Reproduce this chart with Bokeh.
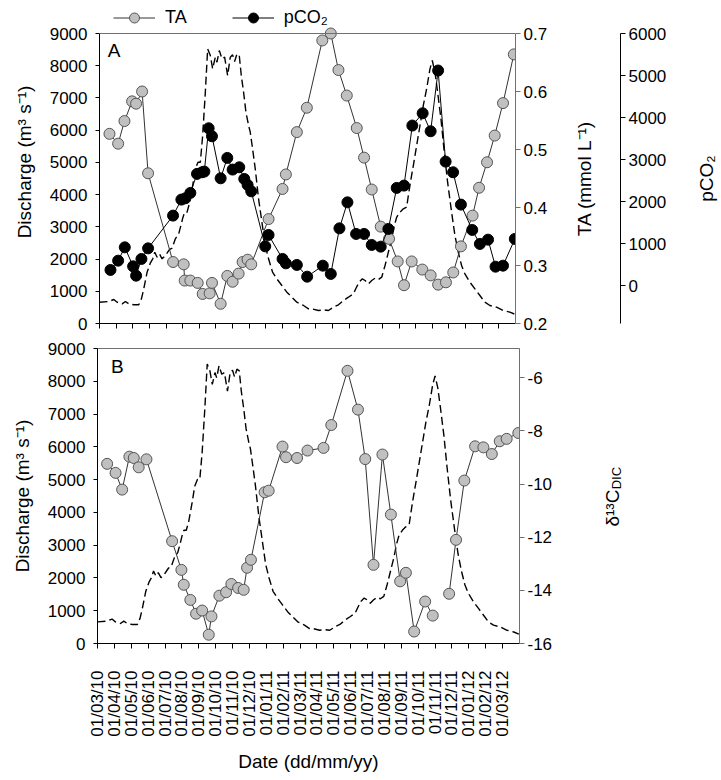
import math
from bokeh.plotting import figure
from bokeh.models import LinearAxis, Range1d, FixedTicker, Legend, LegendItem, Label, Span
from bokeh.layouts import column, row
from bokeh.embed import file_html
from bokeh.resources import INLINE

FONT = "Liberation Sans"
NAN = float("nan")

# ---- x axis: months since 01/03/10 ----
date_labels = ["01/03/10", "01/04/10", "01/05/10", "01/06/10", "01/07/10", "01/08/10",
               "01/09/10", "01/10/10", "01/11/10", "01/12/10", "01/01/11", "01/02/11",
               "01/03/11", "01/04/11", "01/05/11", "01/06/11", "01/07/11", "01/08/11",
               "01/09/11", "01/10/11", "01/11/11", "01/12/11", "01/01/12", "01/02/12",
               "01/03/12"]
tick_pos = list(range(len(date_labels)))

# ---- discharge (m3 s-1) ----
q_month = [0.00, 0.56, 0.86, 1.06, 1.36, 1.56, 1.76, 2.06, 2.36, 2.52,
           2.66, 2.86, 3.06, 3.20, 3.32, 3.46, 3.60, 3.76, 3.96, 4.20,
           4.36, 4.56, 4.76, 4.92, 5.00, 5.12, 5.26, 5.40, 5.60, 5.76,
           5.92, 6.06, 6.20, 6.36, 6.50, 6.66, 6.80, 6.96, 7.06, 7.20,
           7.36, 7.52, 7.70, 7.86, 8.00, 8.12, 8.26, 8.40, 8.52, 8.66,
           8.80, 8.96, 9.06, 9.20, 9.36, 9.56, 9.76, 9.96, 10.16, 10.40,
           10.66, 10.96, 11.26, 11.56, 11.86, 12.26, 12.56, 12.76, 13.16, 13.46,
           13.76, 14.06, 14.36, 14.66, 14.96, 15.26, 15.40, 15.60, 15.80, 15.96,
           16.16, 16.36, 16.56, 16.76, 16.96, 17.16, 17.36, 17.56, 17.72, 17.86,
           18.06, 18.26, 18.46, 18.56, 18.72, 18.86, 19.06, 19.26, 19.46, 19.66,
           19.86, 20.00, 20.16, 20.32, 20.52, 20.72, 20.92, 21.16, 21.36, 21.56,
           21.76, 21.96, 22.26, 22.56, 22.86, 23.16, 23.46, 23.86, 24.26, 24.66,
           24.96]
q_value = [661, 683, 745, 661, 610, 683, 610, 580, 580, 766,
           1077, 1593, 1883, 2008, 2213, 2058, 2162, 2008, 2110, 2296,
           2337, 2628, 2783, 3094, 3268, 3454, 3454, 3714, 4283, 4800,
           5006, 5006, 5834, 7177, 8524, 8317, 7904, 8265, 8110, 8472,
           8214, 8265, 7696, 8265, 8338, 8131, 8369, 8317, 7696, 7177,
           6558, 6145, 5937, 5421, 4800, 3869, 3144, 2421, 2008, 1593,
           1386, 1179, 972, 816, 661, 559, 456, 456, 403, 425,
           403, 506, 580, 714, 816, 922, 1077, 1283, 1386, 1334,
           1231, 1334, 1406, 1365, 1437, 1800, 2213, 2628, 3041, 3299,
           3454, 3559, 3610, 3972, 4490, 4903, 5524, 6145, 6766, 7283,
           7904, 8162, 7799, 7177, 6352, 5316, 4385, 3454, 2731, 2213,
           1800, 1541, 1283, 1077, 869, 661, 559, 506, 403, 351,
           289]

# ---- TA (mmol L-1) ----
ta_month = [0.60, 1.12, 1.50, 1.96, 2.20, 2.56, 2.92, 4.42, 5.06, 5.12,
            5.46, 5.90, 6.20, 6.62, 6.76, 7.28, 7.68, 8.00, 8.36, 8.60,
            8.90, 9.12, 10.16, 11.00, 11.20, 11.86, 12.46, 13.39, 13.90, 14.36,
            14.86, 15.46, 15.90, 16.36, 16.90, 17.40, 17.92, 18.30, 18.76, 19.40,
            19.90, 20.35, 20.82, 21.26, 21.72, 22.42, 22.81, 23.29, 23.75, 24.25,
            24.90]
ta_value = [0.527, 0.510, 0.549, 0.583, 0.579, 0.600, 0.459, 0.306, 0.302, 0.274,
            0.274, 0.270, 0.251, 0.252, 0.270, 0.234, 0.282, 0.272, 0.286, 0.306,
            0.310, 0.302, 0.380, 0.432, 0.457, 0.530, 0.572, 0.688, 0.700, 0.637,
            0.593, 0.537, 0.486, 0.431, 0.367, 0.346, 0.307, 0.266, 0.307, 0.293,
            0.283, 0.267, 0.271, 0.288, 0.333, 0.386, 0.434, 0.478, 0.524, 0.580,
            0.664]

# ---- pCO2 ----
p_month = [0.66, 1.12, 1.52, 2.02, 2.20, 2.52, 2.92, 4.42, 4.92, 5.16,
           5.46, 5.86, 6.16, 6.30, 6.56, 6.76, 7.28, 7.68, 8.00, 8.40,
           8.70, 8.90, 9.12, 9.96, 10.16, 11.00, 11.20, 11.86, 12.48, 13.42,
           13.90, 14.42, 14.90, 15.42, 15.90, 16.36, 16.90, 17.36, 17.86, 18.30,
           18.80, 19.42, 19.90, 20.35, 20.80, 21.25, 21.72, 22.40, 22.86, 23.35,
           23.80, 24.25, 24.96]
p_value = [374, 595, 912, 460, 238, 636, 888, 1667, 2048, 2079,
           2207, 2660, 2698, 2714, 3745, 3555, 2555, 3040, 2762, 2817,
           2540, 2398, 2245, 936, 1207, 636, 531, 493, 214, 476,
           279, 1364, 1983, 1231, 1231, 969, 929, 1350, 2326, 2381,
           3810, 4102, 3674, 5119, 2952, 2698, 1929, 1326, 993, 1095,
           452, 476, 1112]

# ---- delta13C DIC ----
d_month = [0.57, 1.07, 1.46, 1.89, 2.15, 2.44, 2.90, 4.42, 4.97, 5.11,
           5.50, 5.84, 6.20, 6.59, 6.75, 7.22, 7.62, 7.93, 8.33, 8.66,
           8.86, 9.09, 9.90, 10.14, 10.96, 11.17, 11.82, 12.44, 13.39, 13.85,
           14.81, 15.43, 15.86, 16.35, 16.88, 17.38, 17.93, 18.27, 18.76, 19.41,
           19.86, 20.35, 20.83, 21.24, 21.73, 22.37, 22.86, 23.36, 23.83, 24.24,
           24.93]
d_value = [-9.24, -9.58, -10.21, -8.97, -9.02, -9.37, -9.07, -12.15, -13.23, -13.79,
           -14.36, -14.88, -14.76, -15.67, -14.98, -14.20, -14.07, -13.76, -13.91, -13.98,
           -13.15, -12.85, -10.31, -10.25, -8.59, -8.99, -9.02, -8.74, -8.64, -7.78,
           -5.74, -7.20, -9.06, -13.04, -8.89, -11.15, -13.66, -13.34, -15.55, -14.42,
           -14.95, NAN, -14.13, -12.10, -9.87, -8.58, -8.62, -8.87, -8.39, -8.30,
           -8.08]

q_ticks = [0, 1000, 2000, 3000, 4000, 5000, 6000, 7000, 8000, 9000]
ta_ticks = [0.2, 0.3, 0.4, 0.5, 0.6, 0.7]
p_ticks = [0, 1000, 2000, 3000, 4000, 5000, 6000]
d_ticks = [-16, -14, -12, -10, -8, -6]

GRAY_FILL = "#C0C0C0"
GRAY_EDGE = "#555555"
FRAME = "#707070"

# panel A geometry: 290 px plot box plus 33 px head room (for the legend) above it
A_BOX = 290
A_HEAD = 33
A_FRAME = A_BOX + A_HEAD
EXT = A_FRAME / A_BOX


def style_axis(ax, tick_size="17px"):
    ax.major_label_text_font = FONT
    ax.major_label_text_font_size = tick_size
    ax.major_label_text_color = "black"
    ax.axis_label_text_font = FONT
    ax.axis_label_text_font_style = "normal"
    ax.axis_label_text_font_size = "19px"
    ax.axis_label_text_color = "black"
    ax.minor_tick_line_color = None
    ax.minor_tick_out = 0
    ax.minor_tick_in = 0
    ax.major_tick_in = 0
    ax.major_tick_out = 5
    ax.axis_line_color = "black"
    ax.major_tick_line_color = "black"


def make_fig(fw, fh, ymax, left, top, bottom, right):
    p = figure(frame_width=fw, frame_height=fh, x_range=Range1d(0, 25),
               y_range=Range1d(0, ymax), output_backend="svg", toolbar_location=None,
               min_border_left=left, min_border_top=top, min_border_bottom=bottom,
               min_border_right=right)
    p.xgrid.visible = False
    p.ygrid.visible = False
    p.outline_line_color = FRAME
    p.outline_line_width = 1
    ax = p.xaxis[0]
    style_axis(ax)
    ax.ticker = FixedTicker(ticks=tick_pos)
    ay = p.yaxis[0]
    style_axis(ay)
    ay.ticker = FixedTicker(ticks=q_ticks)
    ay.major_tick_out = 4
    ay.major_label_standoff = 8
    ay.axis_label = "Discharge (m³ s⁻¹)"
    ay.axis_label_standoff = 12
    return p


def strip(fw, fh, top, bottom, right=0):
    s = figure(frame_width=fw, frame_height=fh, x_range=Range1d(0, fw), y_range=Range1d(0, fh),
               output_backend="svg", toolbar_location=None,
               x_axis_location=None, y_axis_location=None,
               min_border_left=0, min_border_right=right, min_border_top=top,
               min_border_bottom=bottom)
    s.xgrid.visible = False
    s.ygrid.visible = False
    s.outline_line_color = None
    return s


# ================= Panel A =================
ta_rng = Range1d(0.2, 0.2 + 0.5 * EXT)
pco2_rng = Range1d(-900, -900 + 6900 * EXT)

pa = make_fig(416, A_FRAME, 9000 * EXT, 99, 0, 15, 35)
pa.outline_line_color = None
pa.yaxis[0].bounds = (0, 9000)
pa.extra_y_ranges = {"ta": ta_rng, "pco2": pco2_rng}
pa.add_layout(Span(location=9000, dimension="width", line_color=FRAME, line_width=1))
axa = pa.xaxis[0]
axa.major_label_overrides = {i: "" for i in tick_pos}
axa.major_label_text_font_size = "0px"
axa.major_label_standoff = 0

pa.line(q_month, q_value, line_color="black", line_width=1.4, line_dash="8 4")
ta_line = pa.line(ta_month, ta_value, y_range_name="ta", line_color="#333333", line_width=1)
ta_pts = pa.scatter(ta_month, ta_value, y_range_name="ta", marker="circle", size=11,
                    fill_color=GRAY_FILL, line_color=GRAY_EDGE, line_width=1)
p_line = pa.line(p_month, p_value, y_range_name="pco2", line_color="black", line_width=1)
p_pts = pa.scatter(p_month, p_value, y_range_name="pco2", marker="circle", size=11,
                   fill_color="black", line_color="black", line_width=1)

ta_ax = LinearAxis(y_range_name="ta", ticker=FixedTicker(ticks=ta_ticks), bounds=(0.2, 0.7))
style_axis(ta_ax)
ta_ax.major_label_overrides = {t: f"{t:.1f}" for t in ta_ticks}
ta_ax.axis_line_color = FRAME
ta_ax.major_tick_line_color = FRAME
ta_ax.major_label_standoff = 3
pa.add_layout(ta_ax, "right")

legend = Legend(items=[LegendItem(label="TA", renderers=[ta_line, ta_pts]),
                       LegendItem(label="pCO₂", renderers=[p_line, p_pts])],
                location=(14, A_FRAME - 30), orientation="horizontal", glyph_width=42,
                glyph_height=25, label_standoff=10, spacing=45, padding=0, margin=0,
                border_line_color=None, background_fill_alpha=0,
                label_text_font=FONT, label_text_font_size="18px",
                label_text_color="black")
pa.add_layout(legend)

pa.add_layout(Label(x=0.5, y=8810, text="A", text_baseline="top", text_align="left",
                    text_font=FONT, text_font_size="19px", text_color="black"))

# strip with the TA title and the pCO2 axis
ra = strip(70, A_FRAME, 0, 15, right=50)
ra.extra_y_ranges = {"pco2": pco2_rng}
p_ax = LinearAxis(y_range_name="pco2", ticker=FixedTicker(ticks=p_ticks), bounds=(-900, 6000))
style_axis(p_ax)
p_ax.major_label_standoff = 3
ra.add_layout(p_ax, "right")
ra.add_layout(Label(x=34, y=A_BOX / 2, text="TA (mmol L⁻¹)", angle=math.pi / 2,
                    text_align="center", text_baseline="middle",
                    text_font=FONT, text_font_size="19px", text_color="black"))

# strip with the pCO2 title
rb = strip(50, A_FRAME, 0, 15)
rb.add_layout(Label(x=36, y=A_BOX / 2, text="pCO₂", angle=math.pi / 2,
                    text_align="center", text_baseline="middle",
                    text_font=FONT, text_font_size="19px", text_color="black"))

# ================= Panel B =================
pb = make_fig(422, 295, 9000, 97, 10, 10, 40)
pb.extra_y_ranges = {"d13c": Range1d(-16, -4.9)}
axb = pb.xaxis[0]
axb.major_label_overrides = {i: lab for i, lab in zip(tick_pos, date_labels)}
axb.major_label_orientation = math.pi / 2
axb.major_label_standoff = 22
axb.axis_label = "Date (dd/mm/yy)"
axb.axis_label_standoff = 11

pb.line(q_month, q_value, line_color="black", line_width=1.4, line_dash="8 4")
pb.line(d_month, d_value, y_range_name="d13c", line_color="#333333", line_width=1)
pb.scatter(d_month, d_value, y_range_name="d13c", marker="circle", size=11,
           fill_color=GRAY_FILL, line_color=GRAY_EDGE, line_width=1)

d_ax = LinearAxis(y_range_name="d13c", ticker=FixedTicker(ticks=d_ticks))
style_axis(d_ax)
d_ax.major_label_overrides = {t: str(t) for t in d_ticks}
d_ax.axis_line_color = FRAME
d_ax.major_tick_line_color = FRAME
d_ax.major_label_standoff = 3
pb.add_layout(d_ax, "right")

pb.add_layout(Label(x=0.8, y=8780, text="B", text_baseline="top", text_align="left",
                    text_font=FONT, text_font_size="19px", text_color="black"))

# strip with the rotated delta13C-DIC title
tb = strip(150, 295, 10, 0)
tb.extra_y_ranges = {"d13c": Range1d(-16, -4.9)}
tb.add_layout(Label(x=53, y=-11.6, y_range_name="d13c", text="δ¹³C", angle=math.pi / 2,
                    text_align="left", text_baseline="alphabetic",
                    text_font=FONT, text_font_size="19px", text_color="black"))
tb.add_layout(Label(x=53, y=-10.2, y_range_name="d13c", text="DIC", angle=math.pi / 2,
                    x_offset=4, text_align="left", text_baseline="alphabetic",
                    text_font=FONT, text_font_size="13px", text_color="black"))

layout = column(row(pa, ra, rb), row(pb, tb))
open("out.html", "w").write(file_html(layout, INLINE))
